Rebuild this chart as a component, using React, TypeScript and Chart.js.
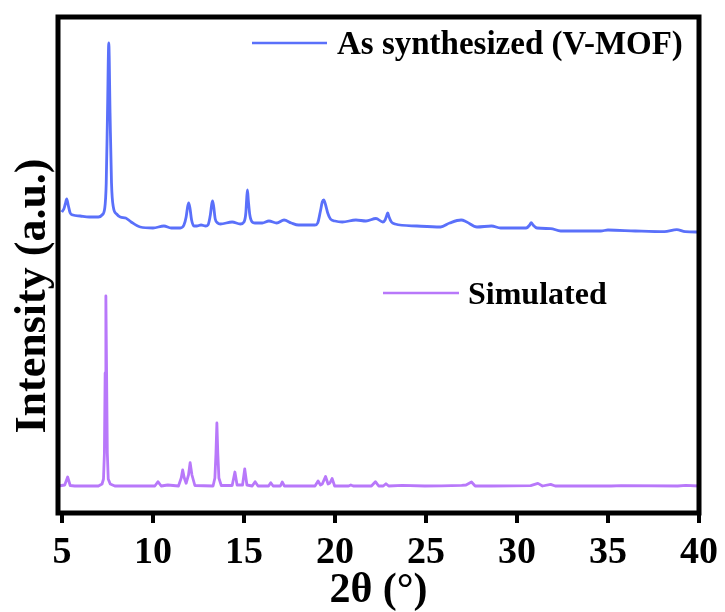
import React, { useEffect, useRef } from "react";
import { Chart, registerables } from "chart.js";

Chart.register(...registerables);

// 2θ positions (degrees) and intensities (a.u.)
const synthTheta = [
  4.98, 5.1, 5.18, 5.26, 5.34, 5.45, 5.6, 6.0, 6.5, 7.0, 7.2, 7.35, 7.43, 7.5, 7.57, 7.64, 7.72,
  7.82, 8.0, 8.2, 8.5, 8.8, 9.3, 10.0, 10.6, 11.0, 11.5, 11.7, 11.82, 11.9, 11.96, 12.03, 12.12,
  12.25, 12.4, 12.64, 12.9, 13.02, 13.15, 13.22, 13.27, 13.33, 13.42, 13.55, 13.7, 14.35, 14.8,
  15.0, 15.1, 15.15, 15.19, 15.24, 15.32, 15.45, 15.6, 16.0, 16.37, 16.8, 17.2, 17.6, 18.0,
  18.9, 19.05, 19.2, 19.3, 19.38, 19.47, 19.6, 19.75, 20.0, 20.4, 21.15, 21.7, 22.25, 22.63,
  22.75, 22.85, 22.9, 22.97, 23.1, 23.3, 24.5, 25.8, 26.3, 26.93, 27.24, 27.8, 28.6, 29.1,
  30.5, 30.7, 30.78, 30.88, 31.1, 31.85, 32.4, 34.6, 35.0, 36.5, 38.1, 38.78, 39.24, 40.0,
];
const synthIntensity = [
  301, 304, 309, 314, 308, 300, 298, 297, 296, 296, 298, 305, 330, 400, 470, 400, 330,
  306, 299, 296, 295, 291, 286, 285, 287, 285, 285, 288, 296, 306, 310, 305, 293,
  287, 287, 288, 287, 288, 298, 308, 312, 307, 294, 290, 289, 291, 289,
  291, 300, 315, 323, 312, 298, 291, 290, 290, 292, 290, 293, 290, 288,
  288, 290, 302, 311, 313, 309, 300, 294, 292, 291, 293, 292, 294.5, 291,
  293, 298, 300, 296, 291, 289, 287, 286, 290, 293, 291, 286, 287, 285,
  285, 288, 290.4, 288, 285, 284.4, 282, 282, 283, 282, 281.3, 283.4, 281.3, 281,
];

const simTheta = [
  4.8, 5.15, 5.31, 5.45, 5.7, 7.0, 7.2, 7.28, 7.33, 7.37, 7.41, 7.45, 7.49, 7.54, 7.65, 7.9,
  10.1, 10.27, 10.45, 10.81, 11.4, 11.55, 11.63, 11.72, 11.82, 11.95, 12.04, 12.14, 12.3,
  13.3, 13.4, 13.46, 13.51, 13.56, 13.62, 13.75, 14.35, 14.5, 14.62, 14.92, 15.04, 15.16,
  15.45, 15.61, 15.77, 16.35, 16.47, 16.6, 17.0, 17.1, 17.22, 18.9, 19.07, 19.2, 19.3, 19.48,
  19.62, 19.72, 19.84, 19.98, 20.75, 20.87, 21.0, 22.0, 22.22, 22.4, 22.65, 22.8, 22.95, 23.7,
  24.93, 25.85, 26.96, 27.2, 27.5, 27.7, 28.62, 30.75, 31.15, 31.4, 31.85, 32.1, 35.18, 35.73,
  38.83, 39.27, 40.0,
];
const simIntensity = [
  27, 28, 36, 27.5, 27, 27, 29, 34, 60, 140, 217, 140, 60, 34, 29, 27,
  27, 31.3, 27, 28, 27, 35, 43, 35, 29.7, 38, 50.3, 38, 27.5,
  27, 35, 60, 90, 60, 35, 27.5, 27.5, 41, 28, 28, 44, 28,
  27, 31.3, 27, 27, 30.3, 27, 27, 31, 27, 27, 32, 28, 29, 36.5,
  29, 30, 34.5, 27, 27, 28, 27, 27, 31.3, 27, 27, 29.3, 27, 27.7,
  27, 27.2, 27.6, 28, 31, 27, 27, 27.3, 29.6, 27, 28.6, 27, 27, 27.3,
  27, 27.6, 27,
];

const xTickValues = [5, 10, 15, 20, 25, 30, 35, 40];
const seriesLabels = ["As synthesized (V-MOF)", "Simulated"];
const seriesColors = ["rgb(90,112,250)", "rgb(184,120,250)"];

const FONT = "'Liberation Serif', 'Times New Roman', Times, serif";

const framePlugin = {
  id: "frameAndLabels",
  afterDraw(chart: any) {
    const { ctx, chartArea } = chart;
    ctx.save();
    ctx.strokeStyle = "#000";
    ctx.lineWidth = 5;
    ctx.strokeRect(
      chartArea.left,
      chartArea.top,
      chartArea.right - chartArea.left,
      chartArea.bottom - chartArea.top
    );
    // y-axis title
    ctx.save();
    ctx.translate(34, 296);
    ctx.rotate(-Math.PI / 2);
    ctx.fillStyle = "#000";
    ctx.font = `bold 44px ${FONT}`;
    ctx.textAlign = "center";
    ctx.textBaseline = "middle";
    ctx.fillText("Intensity (a.u.)", 0, 0);
    ctx.restore();
    // legends
    const legendPos = [
      { x1: 252, x2: 327, y: 43, tx: 337, ty: 54, size: 33 },
      { x1: 383, x2: 459, y: 293, tx: 468, ty: 304, size: 32 },
    ];
    chart.data.datasets.forEach((ds: any, i: number) => {
      const p = legendPos[i];
      ctx.strokeStyle = ds.borderColor;
      ctx.lineWidth = 2.5;
      ctx.beginPath();
      ctx.moveTo(p.x1, p.y);
      ctx.lineTo(p.x2, p.y);
      ctx.stroke();
      ctx.fillStyle = "#000";
      ctx.font = `bold ${p.size}px ${FONT}`;
      ctx.textAlign = "left";
      ctx.textBaseline = "alphabetic";
      ctx.fillText(ds.label, p.tx, p.ty);
    });
    ctx.restore();
  },
};

export default function App() {
  const canvasRef = useRef<HTMLCanvasElement | null>(null);

  useEffect(() => {
    document.body.style.margin = "0";
    const canvas = canvasRef.current;
    if (!canvas) return;
    const chart = new Chart(canvas, {
      type: "line",
      data: {
        datasets: [
          {
            label: seriesLabels[0],
            data: synthTheta.map((x, i) => ({ x, y: synthIntensity[i] })),
            borderColor: seriesColors[0],
            borderWidth: 2.8,
            borderJoinStyle: "round",
            pointRadius: 0,
            tension: 0.3,
            cubicInterpolationMode: "monotone",
            fill: false,
          },
          {
            label: seriesLabels[1],
            data: simTheta.map((x, i) => ({ x, y: simIntensity[i] })),
            borderColor: seriesColors[1],
            borderWidth: 2.8,
            borderJoinStyle: "round",
            pointRadius: 0,
            tension: 0,
            fill: false,
          },
        ],
      },
      options: {
        animation: false,
        responsive: false,
        maintainAspectRatio: false,
        layout: { padding: { left: 0, right: 23, top: 17, bottom: 0 } },
        plugins: {
          legend: { display: false },
          tooltip: { enabled: false },
        },
        scales: {
          x: {
            type: "linear",
            min: 4.78,
            max: 40,
            afterBuildTicks: (scale: any) => {
              scale.ticks = xTickValues.map((v) => ({ value: v }));
            },
            afterFit: (scale: any) => {
              scale.height = 99;
            },
            border: { display: false },
            grid: {
              drawOnChartArea: false,
              drawTicks: true,
              tickLength: 10,
              lineWidth: 4,
              color: "#000",
            },
            ticks: {
              color: "#000",
              padding: 7,
              maxRotation: 0,
              autoSkip: false,
              font: { family: FONT, size: 38, weight: "bold" },
            },
            title: {
              display: true,
              text: "2θ (°)",
              color: "#000",
              padding: { top: 0, bottom: -4 },
              font: { family: FONT, size: 42, weight: "bold" },
            },
          },
          y: {
            type: "linear",
            min: 0,
            max: 496,
            afterFit: (scale: any) => {
              scale.width = 58;
            },
            border: { display: false },
            grid: { display: false },
            ticks: { display: false },
            title: { display: false },
          },
        },
      },
      plugins: [framePlugin],
    });
    return () => chart.destroy();
  }, []);

  return (
    <div style={{ width: 725, height: 612 }}>
      <canvas ref={canvasRef} width={725} height={612} />
    </div>
  );
}
